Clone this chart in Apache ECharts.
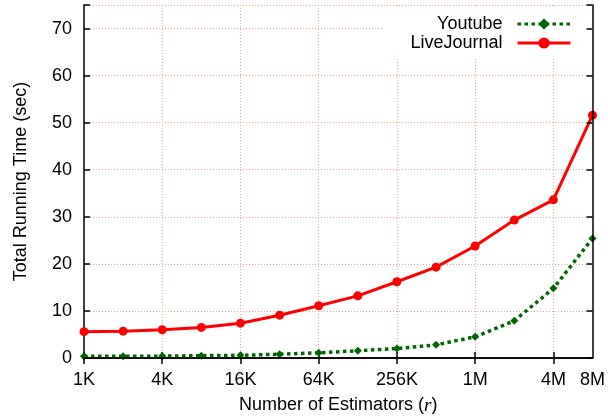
<!DOCTYPE html>
<html><head><meta charset="utf-8">
<script src="https://cdn.jsdelivr.net/npm/echarts@6/dist/echarts.min.js"></script>
<style>html,body{margin:0;padding:0;background:#fff}#c{width:608px;height:420px}</style>
</head><body><div id="c"></div>
<script>
const categories = ['1K','2K','4K','8K','16K','32K','64K','128K','256K','512K','1M','2M','4M','8M'];
const youtube = [0.35,0.38,0.4,0.5,0.57,0.8,1.1,1.55,2.0,2.8,4.5,7.9,14.8,25.4];
const liveJournal = [5.6,5.7,6.0,6.5,7.4,9.1,11.1,13.2,16.2,19.3,23.8,29.3,33.6,51.6];
const yTicks = [0,10,20,30,40,50,60,70];

const font = 'Liberation Sans, Arial, Helvetica, sans-serif';
const shown = i => i % 2 === 0 || i === categories.length - 1;
const chart = echarts.init(document.getElementById('c'), null, {renderer:'canvas'});
chart.setOption({
  animation:false,
  backgroundColor:'#fff',
  grid:{left:84, right:13, top:5, bottom:61},
  legend:{
    right:15, top:6, orient:'vertical', align:'right', z:5,
    backgroundColor:'#fff', padding:[9,21,5,28], itemGap:1,
    itemWidth:53, itemHeight:14,
    lineStyle:{width:3},
    textStyle:{fontFamily:font, fontSize:18, color:'#000', padding:[0,10,0,0]},
    data:['Youtube','LiveJournal']
  },
  xAxis:[{
    type:'category', data:categories, boundaryGap:false, z:0,
    axisLine:{lineStyle:{color:'#000', width:1.5}},
    axisTick:{inside:true, length:6, interval:(i)=>i%2===0, lineStyle:{color:'#000', width:1.5}},
    axisLabel:{interval:(i)=>shown(i), margin:13, fontFamily:font, fontSize:18, color:'#000'},
    splitLine:{show:true, interval:(i)=>i%2===0, lineStyle:{color:'#f2a07e', type:[1,2], width:1}},
    name:'Number of Estimators ({i|r})', nameLocation:'middle', nameGap:38,
    nameTextStyle:{fontFamily:font, fontSize:18, color:'#000', rich:{i:{fontFamily:'Liberation Serif, serif', fontStyle:'italic', fontSize:19, color:'#000'}}}
  },{
    type:'category', data:categories, boundaryGap:false, position:'top', z:10,
    axisLine:{lineStyle:{color:'#000', width:1.5}},
    axisTick:{inside:true, length:6, interval:(i)=>i%2===0, lineStyle:{color:'#000', width:1.5}},
    axisLabel:{show:false}, splitLine:{show:false}
  }],
  yAxis:[{
    type:'value', min:0, max:75, interval:10, z:0,
    axisLine:{show:true, lineStyle:{color:'#000', width:1.5}},
    axisTick:{show:true, inside:true, length:6, lineStyle:{color:'#000', width:1.5}},
    axisLabel:{margin:12, fontFamily:font, fontSize:18, color:'#000',
      formatter:(v)=> yTicks.indexOf(v) >= 0 ? String(v) : ''},
    splitLine:{show:true, lineStyle:{color:'#f2a07e', type:[1,2], width:1}},
    name:'Total Running Time (sec)', nameLocation:'middle', nameGap:54,
    nameTextStyle:{fontFamily:font, fontSize:18, color:'#000'}
  },{
    type:'value', min:0, max:75, interval:10, position:'right', z:10,
    axisLine:{show:true, lineStyle:{color:'#000', width:1.5}},
    axisTick:{show:true, inside:true, length:6, lineStyle:{color:'#000', width:1.5}},
    axisLabel:{show:false}, splitLine:{show:false}
  }],
  series:[{
    name:'Youtube', type:'line', data:youtube, z:3,
    symbol:'diamond', symbolSize:8,
    itemStyle:{color:'#006400'},
    lineStyle:{color:'#006400', width:3.5, type:[3.5,3.5]}
  },{
    name:'LiveJournal', type:'line', data:liveJournal, z:4,
    symbol:'circle', symbolSize:9,
    itemStyle:{color:'#ff0000'},
    lineStyle:{color:'#ff0000', width:3}
  }]
});
</script></body></html>
